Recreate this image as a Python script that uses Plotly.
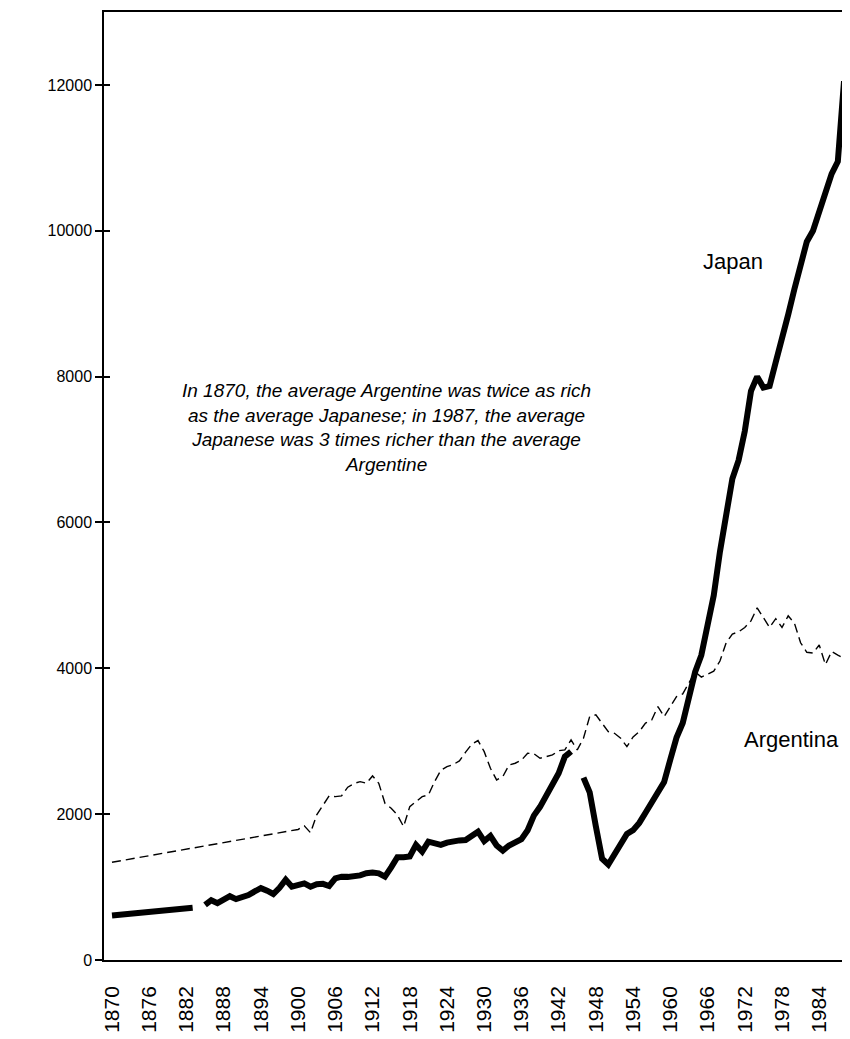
import plotly.graph_objects as go

years = list(range(1870, 1989))

japan = [
    610, 618, 626, 635, 643, 651, 659, 668, 676, 684,        # 1870-1879
    692, 700, 709, 717, None, 755, 820, 780, 830, 875,       # 1880-1889
    835, 860, 890, 940, 985, 950, 905, 990, 1100, 1005,      # 1890-1899
    1030, 1050, 1005, 1040, 1045, 1015, 1120, 1143, 1140, 1143,  # 1900-1909
    1160, 1190, 1200, 1189, 1143, 1270, 1409, 1409, 1420, 1578,  # 1910-1919
    1486, 1623, 1590, 1578, 1610, 1632, 1640, 1646, 1700, 1760,  # 1920-1929
    1630, 1700, 1570, 1500, 1570, 1610, 1656, 1780, 1980, 2100,  # 1930-1939
    2250, 2400, 2561, 2789, 2860, None, 2500, 2300, 1830, 1390,  # 1940-1949
    1310, 1460, 1620, 1730, 1780, 1880, 2020, 2150, 2280, 2440,  # 1950-1959
    2750, 3050, 3250, 3600, 3950, 4180, 4550, 5000, 5600, 6050,  # 1960-1969
    6600, 6850, 7250, 7800, 8000, 7850, 7870, 8200, 8500, 8850,  # 1970-1979
    9200, 9550, 9850, 10000, 10250, 10500, 10780, 10950, 12050,  # 1980-1988
]

argentina = [
    1340, 1355, 1369, 1384, 1399, 1413, 1428, 1443, 1457, 1472,  # 1870-1879
    1487, 1501, 1516, 1531, 1545, 1560, 1575, 1589, 1604, 1619,  # 1880-1889
    1633, 1648, 1663, 1677, 1692, 1707, 1721, 1736, 1751, 1765,  # 1890-1899
    1790, 1840, 1745, 1990, 2120, 2250, 2240, 2250, 2370, 2420,  # 1900-1909
    2446, 2424, 2524, 2424, 2149, 2081, 1989, 1829, 2103, 2170,  # 1910-1919
    2240, 2263, 2446, 2600, 2652, 2680, 2730, 2850, 2960, 3009,  # 1920-1929
    2857, 2629, 2469, 2515, 2675, 2698, 2740, 2835, 2830, 2767,  # 1930-1939
    2790, 2812, 2871, 2881, 3018, 2881, 3041, 3338, 3361, 3250,  # 1940-1949
    3132, 3109, 3041, 2926, 3060, 3132, 3250, 3292, 3475, 3338,  # 1950-1959
    3475, 3612, 3650, 3800, 3950, 3880, 3920, 3960, 4100, 4350,  # 1960-1969
    4470, 4500, 4560, 4650, 4830, 4700, 4560, 4680, 4560, 4720,  # 1970-1979
    4620, 4350, 4220, 4210, 4320, 4050, 4230, 4180, 4140,        # 1980-1988
]

x_ticks = list(range(1870, 1985, 6))
y_ticks = [0, 2000, 4000, 6000, 8000, 10000, 12000]

note_lines = [
    "In 1870, the average Argentine was twice as rich",
    "as the average Japanese; in 1987, the average",
    "Japanese was 3 times richer than the average",
    "Argentine",
]
series_labels = ["Japan", "Argentina"]

FONT = "Liberation Sans, Arial, sans-serif"

fig = go.Figure()
fig.add_trace(go.Scatter(
    x=years, y=argentina, mode="lines", name="Argentina",
    line=dict(color="black", width=1.4, dash="9px,5px"),
    connectgaps=True, hoverinfo="x+y",
))
fig.add_trace(go.Scatter(
    x=years, y=japan, mode="lines", name="Japan",
    line=dict(color="black", width=6),
    connectgaps=False, hoverinfo="x+y",
))
# empty trace so that the overlay axis (inner tick marks) is drawn
fig.add_trace(go.Scatter(x=[], y=[], yaxis="y2", showlegend=False, hoverinfo="skip"))

fig.update_layout(
    width=842, height=1031,
    margin=dict(l=96, r=1, t=4, b=79),
    paper_bgcolor="white", plot_bgcolor="white",
    showlegend=False,
    font=dict(family=FONT, color="black"),
    xaxis=dict(
        range=[1868.71, 1988.48],
        tickmode="array", tickvals=x_ticks, ticktext=[str(v) for v in x_ticks],
        tickangle=-90, ticks="", showgrid=False, zeroline=False,
        showline=True, linecolor="black", linewidth=1.5, mirror=True,
        tickfont=dict(size=21, family=FONT, color="black"),
        ticklabelstandoff=16,
    ),
    yaxis=dict(
        range=[0, 13000],
        tickmode="array", tickvals=y_ticks, tickformat="d",
        ticks="outside", ticklen=7, tickwidth=1.5, tickcolor="black",
        showgrid=False, zeroline=False,
        showline=True, linecolor="black", linewidth=1.5, mirror=True,
        tickfont=dict(size=16, family=FONT, color="black"),
    ),
    yaxis2=dict(
        range=[0, 13000], overlaying="y", side="left",
        tickmode="array", tickvals=y_ticks,
        ticks="inside", ticklen=6, tickwidth=1.5, tickcolor="black",
        showticklabels=False, showgrid=False, zeroline=False, showline=False,
    ),
)

fig.add_annotation(
    text="<i>" + "<br>".join(note_lines) + "</i>", xref="paper", yref="paper",
    x=0.3805, y=0.5617, showarrow=False, xanchor="center", yanchor="middle",
    align="center", font=dict(size=19, family=FONT, color="black"),
)

for txt, (px, py) in zip(series_labels, [(0.8463, 0.7363), (0.9248, 0.2331)]):
    fig.add_annotation(
        text=txt, xref="paper", yref="paper", x=px, y=py,
        showarrow=False, xanchor="center", yanchor="middle",
        font=dict(size=22, family=FONT, color="black"),
    )

fig.write_html("out.html")
